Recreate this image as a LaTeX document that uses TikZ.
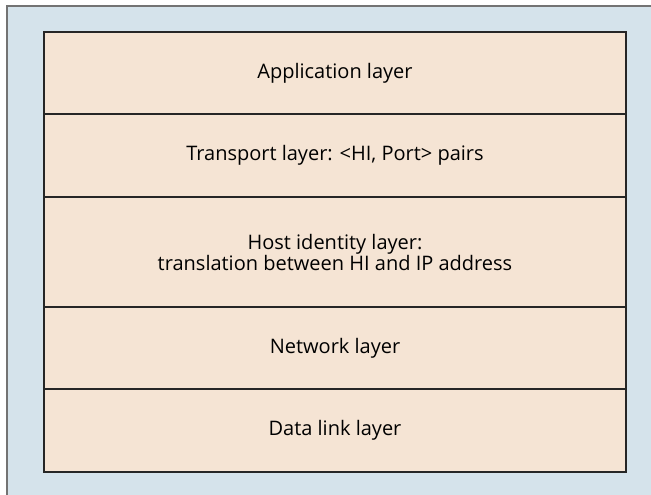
\documentclass[tikz,border=0pt]{standalone}
\usepackage{fontspec}
\setmainfont{Open Sans}
\usetikzlibrary{positioning}

\definecolor{panelblue}{HTML}{D5E3EB}
\definecolor{panelrim}{HTML}{737373}
\definecolor{layerfill}{HTML}{F5E4D4}

\begin{document}
\begin{tikzpicture}[x=1pt,y=-1pt,
    layer/.style={draw=black!85, line width=1.4pt, fill=layerfill,
      minimum width=582pt, inner sep=0pt, outer sep=0pt,
      align=center, font=\fontsize{20}{21}\selectfont}]
      \useasboundingbox (0,0) rectangle (651,495);
      \clip (0,0) rectangle (651,495);

      %% background panel
      \draw[panelrim, line width=2pt, fill=panelblue] (7,6) rectangle (670,520);

      %% protocol stack
      \node[layer, minimum height=82pt, anchor=north west] (app) at (44,32) {Application layer};
      \node[layer, minimum height=83pt]  (trans) [below=0pt of app]   {Transport layer: <HI, Port> pairs};
      \node[layer, minimum height=110pt] (hil)   [below=0pt of trans] {Host identity layer:\\translation between HI and IP address};
      \node[layer, minimum height=82pt]  (net)   [below=0pt of hil]   {Network layer};
      \node[layer, minimum height=83pt]  (link)  [below=0pt of net]   {Data link layer};
\end{tikzpicture}
\end{document}
